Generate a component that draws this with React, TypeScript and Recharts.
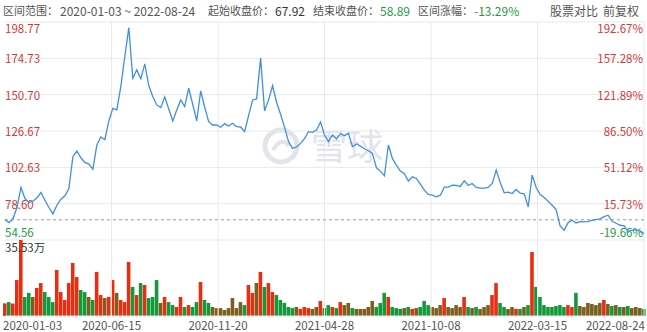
import React from 'react';
import { LineChart, Line, XAxis, YAxis, ReferenceLine, ComposedChart, Bar, Cell } from 'recharts';

const closes = [
  67.92, 66.08, 68.73, 76.03, 89.3, 82.0, 79.35, 80.23, 82.44, 85.98,
  80.89, 76.03, 71.83, 77.58, 81.56, 83.77, 88.63, 109.64, 113.4, 108.97,
  105.88, 104.77, 101.46, 117.38, 122.68, 120.91, 133.3, 141.7, 140.59, 156.07,
  175.97, 195.0, 161.6, 167.13, 161.16, 171.11, 156.73, 149.44, 143.91, 142.14,
  149.22, 141.26, 133.3, 140.59, 147.23, 142.8, 154.97, 144.35, 133.3, 153.2,
  142.36, 132.85, 130.64,
  130.64, 129.1, 131.53, 129.98, 131.75, 129.54, 129.32, 126.22, 136.83, 147.23,
  147.89, 174.87, 139.93, 147.23, 156.73, 145.68, 137.72, 129.1, 119.59, 115.17,
  116.05, 118.48, 121.58, 126.22, 125.78, 127.33, 132.63, 124.01, 119.59, 124.01,
  121.36, 124.89, 123.57, 125.12, 116.27, 118.04, 116.71, 114.94, 113.62, 111.85,
  102.34, 100.13, 97.03, 117.38, 108.53, 104.11, 100.13, 98.36, 93.5, 96.37,
  95.27, 91.51, 87.53, 84.65,
  84.21, 83.11, 84.21, 89.52, 89.52, 90.84, 90.62, 89.96, 93.72, 90.62,
  91.95, 89.3, 88.85, 88.85, 89.3, 91.95, 100.79, 92.61, 85.76, 86.2,
  85.32, 87.97, 85.54, 85.1, 76.47, 97.48, 89.3, 84.65, 82.66, 80.23,
  77.58, 74.7, 63.87, 60.99, 66.08, 67.63, 65.86, 66.74, 66.52, 66.74,
  67.63, 68.07, 68.51, 70.06, 70.94, 66.96, 65.64, 64.31, 63.87, 60.33,
  60.99, 61.44, 60.55, 58.89,
];

// volume in 万
const volumes = [
  5.9, 6.5, 5.9, 16.8, 35.53, 8.9, 10.8, 8.9, 13.1, 15.4,
  11.2, 8.9, 6.5, 21.5, 11.2, 7.5, 15.4, 24.8, 18.2, 12.2,
  11.2, 8.9, 7.5, 20.6, 9.8, 8.4, 8.9, 16.8, 10.8, 7.5,
  6.5, 25.2, 13.6, 9.8, 15.4, 14.5, 8.4, 8.9, 16.8, 6.1,
  8.9, 6.5, 5.1, 4.2, 8.9, 4.2, 5.1, 4.2, 6.5, 15.9,
  7.5, 6.1, 4.2, 3.7, 3.7, 2.8, 3.7, 8.4, 3.7, 6.5,
  5.1, 14.5, 10.8, 15.4, 20.6, 13.6, 15.4, 11.2, 9.8, 7.5,
  6.1, 4.2, 3.7, 4.2, 3.3, 4.2, 3.7, 3.3, 4.2, 7.0,
  3.7, 5.1, 4.2, 3.7, 6.5, 5.1, 6.1, 3.7, 3.3, 3.3,
  3.3, 4.2, 7.0, 4.2, 6.1, 10.8, 8.9, 4.2, 3.7, 3.3,
  3.7, 4.2, 3.3, 3.7, 4.2, 7.0, 5.1, 4.2, 3.7, 5.1,
  8.4, 4.2, 3.7, 5.1, 4.2, 8.9, 4.2, 3.7, 4.2, 3.3,
  4.2, 5.1, 9.8, 15.4, 6.1, 4.2, 3.3, 4.2, 3.3, 3.3,
  4.2, 5.1, 29.9, 13.6, 8.9, 5.1, 4.2, 4.2, 4.7, 5.1,
  4.2, 5.1, 4.2, 10.8, 4.7, 4.2, 6.1, 5.6, 5.1, 6.1,
  7.5, 5.6, 4.7, 5.1, 4.2, 4.2, 4.7, 3.7, 4.2, 3.7,
  3.3,
];

const priceTicks = [54.56, 78.6, 102.63, 126.67, 150.7, 174.73, 198.77];
const priceTickLabels = ['54.56', '78.60', '102.63', '126.67', '150.70', '174.73', '198.77'];
const pctLabels = ['-19.66%', '15.73%', '51.12%', '86.50%', '121.89%', '157.28%', '192.67%'];
const dateLabels = ['2020-01-03', '2020-06-15', '2020-11-20', '2021-04-28', '2021-10-08', '2022-03-15', '2022-08-24'];

const rangeStart = '2020-01-03';
const rangeEnd = '2022-08-24';
const startClose = 67.92;
const endCloseLabel = '58.89';
const startCloseLabel = '67.92';
const changeLabel = '-13.29%';
const volMax = 35.53;
const volMaxLabel = '35.53万';

const N = closes.length;
const data = closes.map((c, i) => ({ i, close: c, vol: volumes[i] }));
const dateTicks = dateLabels.map((_, k) => (k * (N - 1)) / 6);

const FONT = "'Noto Sans CJK SC', 'Noto Sans', sans-serif";
const RED_TXT = '#d23a3a';
const GREEN_TXT = '#1f9a48';
const GRID = '#e9e9e9';
const RED_BAR = '#e62e10';
const GREEN_BAR = '#14993a';
const OLIVE_BAR = '#7a5f1e';

function barColor(i: number) {
  if (i === 0) return RED_BAR;
  const r = closes[i] / closes[i - 1] - 1;
  if (r > 0.02) return RED_BAR;
  if (r < -0.02) return GREEN_BAR;
  return OLIVE_BAR;
}

const priceLabel = (k: number) => (p: any) => {
  const vb = p.viewBox || {};
  const isTop = k === priceTicks.length - 1;
  const isBottom = k === 0;
  const dy = isTop ? 5.5 : isBottom ? -8 : 0;
  const color = priceTicks[k] < startClose ? GREEN_TXT : RED_TXT;
  return (
    <g>
      <text x={vb.x} y={vb.y + dy} dominantBaseline="central" textAnchor="start" fill={color} fontSize={11.5} fontFamily={FONT}>
        {priceTickLabels[k]}
      </text>
      <text x={vb.x + vb.width - 1} y={vb.y + dy} dominantBaseline="central" textAnchor="end" fill={color} fontSize={11.5} fontFamily={FONT}>
        {pctLabels[k]}
      </text>
    </g>
  );
};

const dateLabel = (k: number) => (p: any) => {
  const vb = p.viewBox || {};
  const anchor = k === 0 ? 'start' : k === dateLabels.length - 1 ? 'end' : 'middle';
  const x = k === 0 ? vb.x - 2 : k === dateLabels.length - 1 ? vb.x + 1 : vb.x;
  return (
    <text x={x} y={vb.y + vb.height + 9} dominantBaseline="central" textAnchor={anchor} fill="#555" fontSize={11.5} fontFamily={FONT}>
      {dateLabels[k]}
    </text>
  );
};

const volLabel = (p: any) => {
  const vb = p.viewBox || {};
  return (
    <text x={vb.x} y={vb.y + 7} dominantBaseline="central" fill="#333" fontSize={11.5} fontFamily={FONT}>
      {volMaxLabel}
    </text>
  );
};

const hdr: React.CSSProperties = { position: 'absolute', top: 3, fontSize: 12, lineHeight: '15px', color: '#555', whiteSpace: 'nowrap', fontFamily: FONT };
const hdrCjk: React.CSSProperties = { ...hdr, fontSize: 11 };

export default function App() {
  return (
    <div style={{ position: 'absolute', left: 0, top: 0, width: 647, height: 332, background: '#fff', overflow: 'hidden', fontFamily: FONT }}>
      <div style={{ ...hdrCjk, left: 3 }}>区间范围：</div>
      <div style={{ ...hdr, left: 60 }}>{rangeStart} ~ {rangeEnd}</div>
      <div style={{ ...hdrCjk, left: 208 }}>起始收盘价：</div>
      <div style={{ ...hdr, left: 275, color: '#333' }}>{startCloseLabel}</div>
      <div style={{ ...hdrCjk, left: 313 }}>结束收盘价：</div>
      <div style={{ ...hdr, left: 380, color: GREEN_TXT }}>{endCloseLabel}</div>
      <div style={{ ...hdrCjk, left: 418 }}>区间涨幅：</div>
      <div style={{ ...hdr, left: 474, color: GREEN_TXT }}>{changeLabel}</div>
      <div style={{ ...hdr, left: 550 }}>股票对比</div>
      <div style={{ ...hdr, left: 603 }}>前复权</div>

      <svg width={647} height={332} style={{ position: 'absolute', left: 0, top: 0 }}>
        <circle cx={281} cy={146} r={16} fill="none" stroke="#e2e4ea" strokeWidth={5} />
        <path d="M273 150 Q281 136 289 146" fill="none" stroke="#e2e4ea" strokeWidth={4} />
        <text x={347} y={160} textAnchor="middle" fontSize={36} fill="#e2e4ea" fontFamily={FONT}>雪球</text>
      </svg>

      <div style={{ position: 'absolute', left: 0, top: 0 }}>
        <LineChart width={647} height={245} data={data} margin={{ top: 22, right: 3, bottom: 5, left: 5 }}>
          <XAxis dataKey="i" type="number" domain={[0, N - 1]} hide />
          <YAxis domain={[priceTicks[0], priceTicks[priceTicks.length - 1]]} hide />
          {dateTicks.slice(1).map((t) => (
            <ReferenceLine key={'v' + t} x={t} stroke={GRID} />
          ))}
          {priceTicks.map((v, k) => (
            <ReferenceLine key={'h' + v} y={v} stroke={GRID} label={priceLabel(k)} />
          ))}
          <ReferenceLine y={startClose} stroke="#9a9a9a" strokeDasharray="3 3" />
          <Line dataKey="close" stroke="#3f8fe4" strokeWidth={1.3} dot={false} isAnimationActive={false} />
        </LineChart>
      </div>

      <div style={{ position: 'absolute', left: 0, top: 240 }}>
        <ComposedChart width={647} height={92} data={data} margin={{ top: 0, right: 3, bottom: 16, left: 5 }}>
          <XAxis dataKey="i" type="number" domain={[0, N - 1]} hide />
          <YAxis domain={[0, volMax]} hide />
          {dateTicks.map((t, k) => (
            <ReferenceLine key={'d' + k} x={t} stroke={k === 0 ? 'none' : GRID} label={dateLabel(k)} />
          ))}
          <ReferenceLine y={0} stroke={GRID} />
          <Bar dataKey="vol" barSize={4.6} isAnimationActive={false}>
            {data.map((d) => (
              <Cell key={d.i} fill={barColor(d.i)} />
            ))}
          </Bar>
          <ReferenceLine y={volMax} stroke="none" label={volLabel} />
        </ComposedChart>
      </div>
    </div>
  );
}
